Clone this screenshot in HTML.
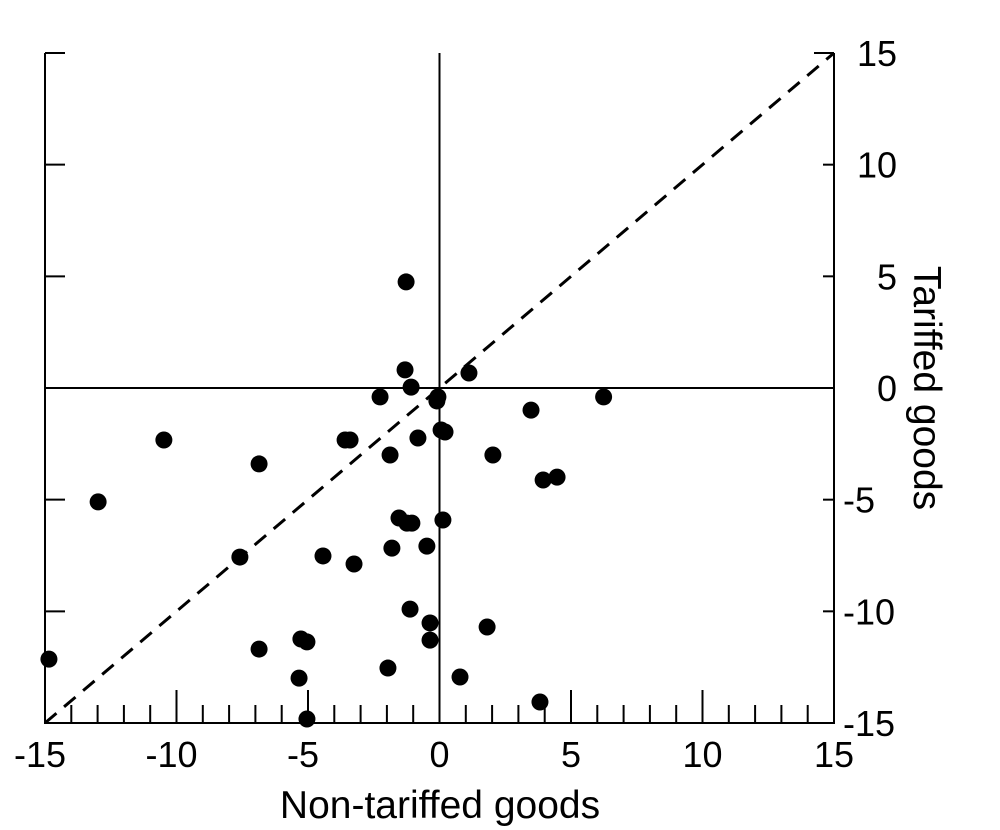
<!DOCTYPE html>
<html><head><meta charset="utf-8"><style>body{margin:0;background:#fff}svg{display:block}text{font-family:"Liberation Sans",Arial,sans-serif;fill:#000;font-size:36px}</style></head>
<body>
<svg id="chart" width="1000" height="830" xmlns="http://www.w3.org/2000/svg"></svg>
<script>
const xVals=[-1.27,-1.31,-1.08,1.12,-2.26,-0.10,-0.06,3.48,6.24,-10.48,-3.59,-3.40,-0.82,0.06,0.21,-1.88,2.03,-6.86,3.94,4.47,-12.98,-1.54,-1.24,-1.05,0.13,-1.81,-0.48,-7.59,-4.43,-3.25,-1.12,-0.36,1.81,-5.27,-5.04,-0.36,-6.86,-14.85,-1.96,-5.34,0.78,3.82,-5.04];
const yVals=[4.75,0.81,0.04,0.67,-0.40,-0.58,-0.40,-0.99,-0.40,-2.33,-2.33,-2.33,-2.24,-1.88,-1.97,-3.00,-3.00,-3.40,-4.12,-3.99,-5.10,-5.82,-6.05,-6.05,-5.91,-7.17,-7.08,-7.57,-7.52,-7.88,-9.90,-10.52,-10.70,-11.24,-11.37,-11.29,-11.69,-12.14,-12.54,-12.99,-12.94,-14.06,-14.82];
const xTicks=[-15,-10,-5,0,5,10,15];
const yTicks=[15,10,5,0,-5,-10,-15];
const X0=45,X1=834,Y0=723,Y1=53;
const sx=v=>X0+(v+15)/30*(X1-X0);
const sy=v=>Y0-(v+15)/30*(Y0-Y1);
const svg=document.getElementById('chart');
const NS='http://www.w3.org/2000/svg';
function mk(tag,at,name){const e=document.createElementNS(NS,tag);for(const k in at)e.setAttribute(k,at[k]);


svg.appendChild(e);return e;}
function ln(x1,y1,x2,y2,name,w){return mk('line',{x1,y1,x2,y2,stroke:'#000','stroke-width':w||2},name);}
ln(X0,Y1,X0,Y0+1,'left-axis');
ln(X1,Y1,X1,Y0+1,'right-axis');
ln(X0-1,Y0,X1+1,Y0,'bottom-axis');
ln(sx(0),Y1,sx(0),Y0,'zero-vertical-line');
ln(X0,sy(0),X1,sy(0),'zero-horizontal-line');
mk('line',{x1:sx(-15),y1:sy(-15),x2:sx(15),y2:sy(15),stroke:'#000','stroke-width':3,'stroke-dasharray':'15 10'},'diagonal-reference-line');
for(let v=-15;v<=15;v++){const maj=v%5===0;ln(sx(v),Y0,sx(v),Y0-(maj?33:18),'x-tick');}
yTicks.forEach(v=>{ln(X0,sy(v),X0+20,sy(v),'left-y-tick');ln(X1,sy(v),X1-(v===15?20:11),sy(v),'right-y-tick');});
xTicks.forEach(v=>{const t=mk('text',{x:sx(v)-(v<0?5:0),y:767,'text-anchor':'middle'},'x-tick-label');t.textContent=v;});
yTicks.forEach(v=>{const t=mk('text',{x:v<0?843:897,y:sy(v)+13,'text-anchor':v<0?'start':'end'},'y-tick-label');t.textContent=v;});
xVals.forEach((x,i)=>{mk('circle',{cx:sx(x),cy:sy(yVals[i]),r:8.5,fill:'#000'},'data-point');});
const xt=mk('text',{x:440,y:818,'text-anchor':'middle',style:'font-size:39px'},'x-axis-title');xt.textContent='Non-tariffed goods';
const yt=mk('text',{x:0,y:0,'text-anchor':'middle',style:'font-size:39px',transform:'translate(914,388) rotate(90)'},'y-axis-title');yt.textContent='Tariffed goods';
</script>
</body></html>
